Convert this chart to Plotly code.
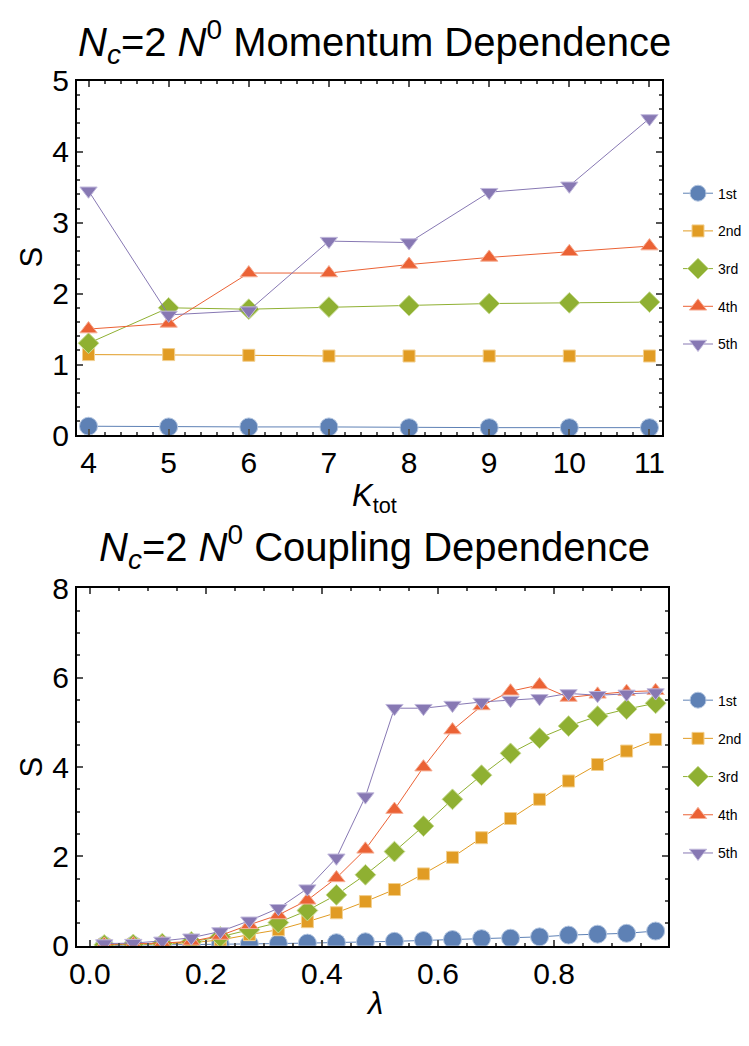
import plotly.graph_objects as go

# ---------------- data ----------------
series_names = ["1st", "2nd", "3rd", "4th", "5th"]
colors = ["#5E81B5", "#E19C24", "#8FB032", "#EB6235", "#8778B3"]
edge_colors = ["#B4C6E0", "#F2CF8F", "#C9DC96", "#F6AE95", "#C1B9DC"]
symbols = ["circle", "square", "diamond", "triangle-up", "triangle-down"]
msizes = [18, 12, 16, 15, 15]

k_tot = [4, 5, 6, 7, 8, 9, 10, 11]
mom_1st = [0.13, 0.12, 0.12, 0.12, 0.11, 0.11, 0.11, 0.11]
mom_2nd = [1.14, 1.14, 1.13, 1.12, 1.12, 1.12, 1.12, 1.12]
mom_3rd = [1.30, 1.80, 1.78, 1.81, 1.83, 1.86, 1.87, 1.88]
mom_4th = [1.50, 1.58, 2.29, 2.29, 2.41, 2.51, 2.59, 2.67]
mom_5th = [3.45, 1.70, 1.76, 2.74, 2.72, 3.43, 3.52, 4.47]

lam = [0.025, 0.075, 0.125, 0.175, 0.225, 0.275, 0.325, 0.375, 0.425, 0.475,
       0.525, 0.575, 0.625, 0.675, 0.725, 0.775, 0.825, 0.875, 0.925, 0.975]
cpl_1st = [0.005, 0.01, 0.015, 0.02, 0.03, 0.04, 0.05, 0.06, 0.07, 0.09,
           0.10, 0.12, 0.14, 0.16, 0.17, 0.20, 0.24, 0.26, 0.28, 0.33]
cpl_2nd = [0.02, 0.03, 0.04, 0.07, 0.13, 0.25, 0.36, 0.54, 0.74, 0.99,
           1.26, 1.61, 1.98, 2.42, 2.85, 3.28, 3.69, 4.06, 4.36, 4.62]
cpl_3rd = [0.02, 0.03, 0.05, 0.09, 0.20, 0.36, 0.52, 0.79, 1.14, 1.59,
           2.11, 2.68, 3.28, 3.82, 4.31, 4.65, 4.92, 5.14, 5.30, 5.43]
cpl_4th = [0.03, 0.04, 0.06, 0.10, 0.23, 0.47, 0.69, 1.02, 1.52, 2.16,
           3.05, 4.00, 4.83, 5.37, 5.70, 5.84, 5.56, 5.63, 5.69, 5.71]
cpl_5th = [0.05, 0.06, 0.11, 0.18, 0.32, 0.56, 0.84, 1.28, 1.97, 3.34,
           5.32, 5.32, 5.39, 5.46, 5.50, 5.54, 5.65, 5.61, 5.64, 5.67]

mom_series = [mom_1st, mom_2nd, mom_3rd, mom_4th, mom_5th]
cpl_series = [cpl_1st, cpl_2nd, cpl_3rd, cpl_4th, cpl_5th]

FONT = "Liberation Sans, Arial, sans-serif"

fig = go.Figure()

for i, name in enumerate(series_names):
    fig.add_trace(go.Scatter(
        x=k_tot, y=mom_series[i], name=name, mode="lines+markers",
        line=dict(color=colors[i], width=1),
        marker=dict(symbol=symbols[i], size=msizes[i], color=colors[i],
                    line=dict(color=edge_colors[i], width=1)),
        xaxis="x", yaxis="y", legend="legend", legendgroup="a" + name,
    ))
for i, name in enumerate(series_names):
    fig.add_trace(go.Scatter(
        x=lam, y=cpl_series[i], name=name, mode="lines+markers",
        line=dict(color=colors[i], width=1),
        marker=dict(symbol=symbols[i], size=msizes[i], color=colors[i],
                    line=dict(color=edge_colors[i], width=1)),
        xaxis="x2", yaxis="y2", legend="legend2", legendgroup="b" + name,
    ))

axis_common = dict(
    showline=True, linecolor="black", linewidth=2, mirror="allticks",
    ticks="inside", ticklen=6, tickwidth=1.5, tickcolor="#555555",
    showgrid=False, zeroline=False,
    tickfont=dict(family=FONT, size=30, color="black"),
)
minor_common = dict(ticks="inside", ticklen=3, tickcolor="#555555", tickwidth=1.5)

H = 1046.0
W = 749.0
fig.update_layout(
    width=749, height=1046, margin=dict(l=0, r=0, t=0, b=0),
    paper_bgcolor="white", plot_bgcolor="white",
    font=dict(family=FONT, color="black"),
    xaxis=dict(domain=[70 / W, 663.3 / W], range=[3.856, 11.151], anchor="y",
               tickmode="linear", tick0=4, dtick=1,
               minor=dict(dtick=0.2, tick0=4, **minor_common),
               **axis_common),
    yaxis=dict(domain=[1 - 432.5 / H, 1 - 66 / H], range=[0, 5], anchor="x",
               tickmode="linear", tick0=0, dtick=1,
               minor=dict(dtick=0.2, tick0=0, **minor_common),
               **axis_common),
    xaxis2=dict(domain=[70 / W, 670 / W], range=[-0.022, 0.9966], anchor="y2",
                tickmode="linear", tick0=0, dtick=0.2, tickformat=".1f",
                minor=dict(dtick=0.05, tick0=0, **minor_common),
                **axis_common),
    yaxis2=dict(domain=[1 - 960 / H, 1 - 590.7 / H], range=[0, 8], anchor="x2",
                tickmode="linear", tick0=0, dtick=2,
                minor=dict(dtick=0.5, tick0=0, **minor_common),
                **axis_common),
    legend=dict(x=680 / W, y=1 - 166 / H, xanchor="left", yanchor="top",
                font=dict(family=FONT, size=14, color="black"),
                tracegroupgap=16.5, bgcolor="rgba(0,0,0,0)", itemwidth=30),
    legend2=dict(x=680 / W, y=1 - 690 / H, xanchor="left", yanchor="top",
                 font=dict(family=FONT, size=14, color="black"),
                 tracegroupgap=17, bgcolor="rgba(0,0,0,0)", itemwidth=30),
    showlegend=True,
)

annotations = [
    dict(text="<i>N</i><sub><i>c</i></sub>=2 <i>N</i><sup>0</sup> Momentum Dependence",
         x=372 / W, y=1 - 26 / H, font=dict(size=40)),
    dict(text="<i>N</i><sub><i>c</i></sub>=2 <i>N</i><sup>0</sup> Coupling Dependence",
         x=372 / W, y=1 - 548 / H, font=dict(size=40)),
    dict(text="<i>K</i><sub>tot</sub>", x=372 / W, y=1 - 497 / H, font=dict(size=31)),
    dict(text="<i>λ</i>", x=372 / W, y=1 - 1020 / H, font=dict(size=31)),
    dict(text="S", x=24 / W, y=1 - 248 / H, font=dict(size=31), textangle=-90),
    dict(text="S", x=24 / W, y=1 - 775 / H, font=dict(size=31), textangle=-90),
]
for a in annotations:
    a.update(xref="paper", yref="paper", showarrow=False, xanchor="center", yanchor="middle")
    a["font"].update(family=FONT, color="black")
fig.update_layout(annotations=annotations)

fig.write_html(
    "out.html",
    config={"displayModeBar": False},
    post_script="document.body.style.margin='0';document.body.style.padding='0';"
                "document.body.style.overflow='hidden';"
                "document.documentElement.style.overflow='hidden';",
)
